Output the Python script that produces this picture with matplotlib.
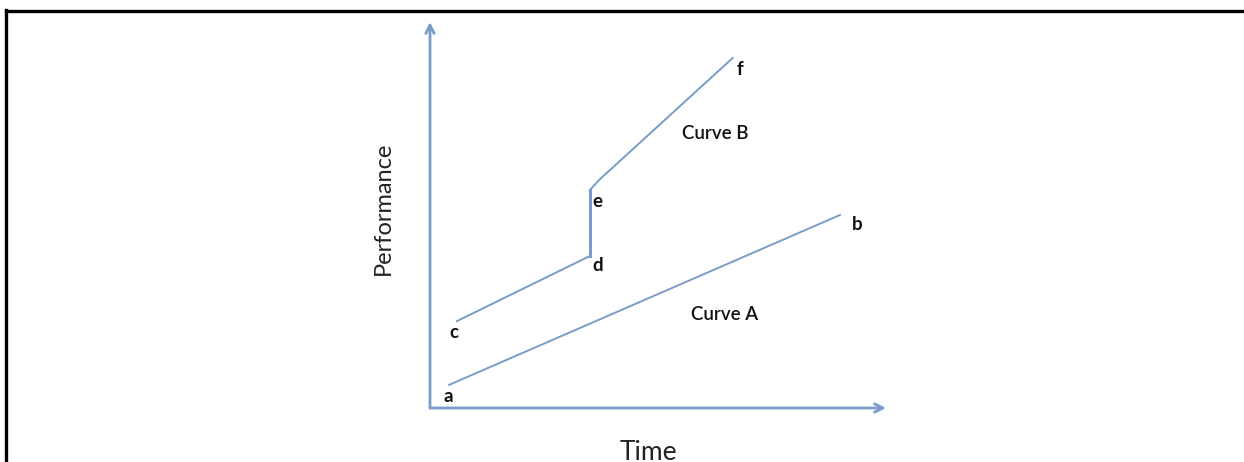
import matplotlib.pyplot as plt
from matplotlib.lines import Line2D

# Sketch: two performance curves over time (values in arbitrary units, axes run 0..10)
LINE_COLOR = "#7b9cc8"

curve_a_time = [0.42, 8.99]
curve_a_perf = [0.60, 5.00]

curve_b_time = [0.59, 3.51, 3.51, 3.71, 6.64]
curve_b_perf = [2.25, 3.94, 5.65, 5.91, 9.07]

point_names = ["a", "b", "c", "d", "e", "f"]
point_time = [0.42, 8.99, 0.59, 3.51, 3.51, 6.64]
point_perf = [0.60, 5.00, 2.25, 3.94, 5.65, 9.07]
# label offsets in pixels from each point
point_dx = [-1, 17, -3, 8, 7, 7]
point_dy = [-12, -9, -11, -10, -12, -12]

curve_names = ["Curve A", "Curve B"]
curve_label_time = [6.45, 6.25]
curve_label_perf = [2.41, 7.10]

fig = plt.figure(figsize=(12.44, 4.62), dpi=100)
fig.patch.set_facecolor("white")

# frame: only top and left edges are visible in the source
fig.add_artist(Line2D([0.0045, 1.0], [0.9760, 0.9760], color="black", lw=2.4,
                      transform=fig.transFigure))
fig.add_artist(Line2D([0.0048, 0.0048], [0.0, 0.9775], color="black", lw=2.4,
                      transform=fig.transFigure))

ax = fig.add_axes([430 / 1244, 54 / 462, 456 / 1244, 386 / 462])
ax.set_xlim(0, 10)
ax.set_ylim(0, 10)
ax.axis("off")

# axes drawn as arrows
arrow = dict(arrowstyle="->,head_length=0.6,head_width=0.3", color=LINE_COLOR, lw=2.0,
             shrinkA=0, shrinkB=0)
ax.annotate("", xy=(10, 0), xytext=(0, 0), arrowprops=arrow, annotation_clip=False)
ax.annotate("", xy=(0, 10), xytext=(0, 0), arrowprops=arrow, annotation_clip=False)

ax.plot(curve_a_time, curve_a_perf, color=LINE_COLOR, lw=1.4, clip_on=False)
ax.plot(curve_b_time[:2], curve_b_perf[:2], color=LINE_COLOR, lw=1.4, clip_on=False)
ax.plot(curve_b_time[1:3], curve_b_perf[1:3], color=LINE_COLOR, lw=2.2, clip_on=False)
ax.plot(curve_b_time[2:], curve_b_perf[2:], color=LINE_COLOR, lw=1.4, clip_on=False)

for name, t, p, dx, dy in zip(point_names, point_time, point_perf, point_dx, point_dy):
    ax.annotate(name, xy=(t, p), xytext=(dx, dy), textcoords="offset pixels",
                ha="center", va="center", fontsize=13.5, family="Lato",
                fontweight="bold", color="#111111", annotation_clip=False)

for name, t, p in zip(curve_names, curve_label_time, curve_label_perf):
    ax.text(t, p, name, ha="center", va="center", fontsize=13.5, family="Lato",
            fontweight="semibold", color="#111111")

fig.text(383 / 1244, 1 - 208 / 462, "Performance", rotation=90, ha="center", va="center",
         fontsize=17, family="Lato", color="#222222")
fig.text(648 / 1244, 1 - 453 / 462, "Time", ha="center", va="center",
         fontsize=19, family="Lato", color="#222222")

fig.savefig("out.png", dpi=100, facecolor="white")
